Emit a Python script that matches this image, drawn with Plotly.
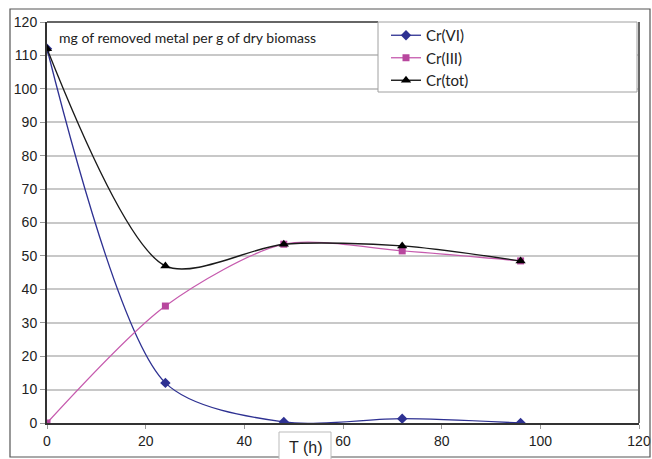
import plotly.graph_objects as go

hours = [0, 24, 48, 72, 96]
cr_vi = [112, 12, 0.3, 1.3, 0]
cr_iii = [0, 35, 53.5, 51.5, 48.5]
cr_tot = [112, 47, 53.5, 53, 48.5]

x_ticks = [0, 20, 40, 60, 80, 100, 120]
y_ticks = [0, 10, 20, 30, 40, 50, 60, 70, 80, 90, 100, 110, 120]

W, H = 652, 459
L, R, T, B = 47, 13, 22, 36
pw, ph = W - L - R, H - T - B

def px(xpix):
    return (xpix - L) / pw

def py(ypix):
    return (H - B - ypix) / ph

SM = 0.8
fig = go.Figure()
fig.add_trace(go.Scatter(x=hours, y=cr_vi, name="Cr(VI)", mode="lines+markers",
                         line=dict(color="#2E3192", width=1.3, shape="spline", smoothing=SM),
                         marker=dict(symbol="diamond", size=8, color="#2E3192")))
fig.add_trace(go.Scatter(x=hours, y=cr_iii, name="Cr(III)", mode="lines+markers",
                         line=dict(color="#C65BAE", width=1.3, shape="spline", smoothing=SM),
                         marker=dict(symbol="square", size=7, color="#B8479E")))
fig.add_trace(go.Scatter(x=hours, y=cr_tot, name="Cr(tot)", mode="lines+markers",
                         line=dict(color="#1a1a1a", width=1.4, shape="spline", smoothing=SM),
                         marker=dict(symbol="triangle-up", size=9, color="#000000")))

shapes = [
    # outer frame
    dict(type="rect", xref="paper", yref="paper", x0=px(10), x1=px(650), y0=py(457), y1=py(9),
         line=dict(color="#555555", width=1.2), layer="above"),
    # right border of plot area
    dict(type="line", xref="paper", yref="paper", x0=1, x1=1, y0=0, y1=1,
         line=dict(color="#666666", width=2), layer="above"),
    # title box top line
    dict(type="line", xref="paper", yref="paper", x0=0, x1=px(378), y0=1, y1=1,
         line=dict(color="#333333", width=1.5), layer="above"),
    # legend box
    dict(type="rect", xref="paper", yref="paper", x0=px(378), x1=px(637), y0=py(92), y1=py(22),
         line=dict(color="#a0a0a0", width=1), fillcolor="white", layer="above"),
    # x-title box
    dict(type="rect", xref="paper", yref="paper", x0=px(279), x1=px(331), y0=py(470), y1=py(432),
         line=dict(color="#bbbbbb", width=1), fillcolor="white", layer="above"),
]

annotations = [
    dict(text="mg of removed metal per g of dry biomass", xref="paper", yref="paper",
         x=px(57), y=py(37), xanchor="left", yanchor="middle", showarrow=False,
         font=dict(family="Lato", size=14, color="#222222")),
    dict(text="T (h)", xref="paper", yref="paper", x=px(305), y=py(447),
         xanchor="center", yanchor="middle", showarrow=False,
         font=dict(family="Liberation Sans", size=16, color="#222222")),
]

fig.update_layout(
    width=W, height=H,
    margin=dict(l=L, r=R, t=T, b=B, autoexpand=False),
    paper_bgcolor="white", plot_bgcolor="white",
    shapes=shapes, annotations=annotations,
    showlegend=True,
    legend=dict(x=px(386), y=py(19), xanchor="left", yanchor="top",
                bgcolor="rgba(0,0,0,0)", borderwidth=0,
                font=dict(family="Lato", size=15, color="#222222"),
                tracegroupgap=0),
    xaxis=dict(range=[0, 120], tickvals=x_ticks, showgrid=False, zeroline=False,
               showline=True, linecolor="#333333", linewidth=2, automargin=False,
               ticks="outside", ticklen=4, tickcolor="#999999",
               tickfont=dict(family="Liberation Sans", size=14, color="#222222")),
    yaxis=dict(range=[0, 120], tickvals=y_ticks, showgrid=True, gridcolor="#c8c8c8", gridwidth=1.5,
               zeroline=False, showline=True, linecolor="#333333", linewidth=2, automargin=False,
               ticks="outside", ticklen=5, tickcolor="#999999",
               tickfont=dict(family="Liberation Sans", size=14, color="#222222")),
)

fig.write_html("out.html", config={"displayModeBar": False},
               post_script="document.body.style.margin='0';document.body.style.padding='0';document.body.style.overflow='hidden';")
